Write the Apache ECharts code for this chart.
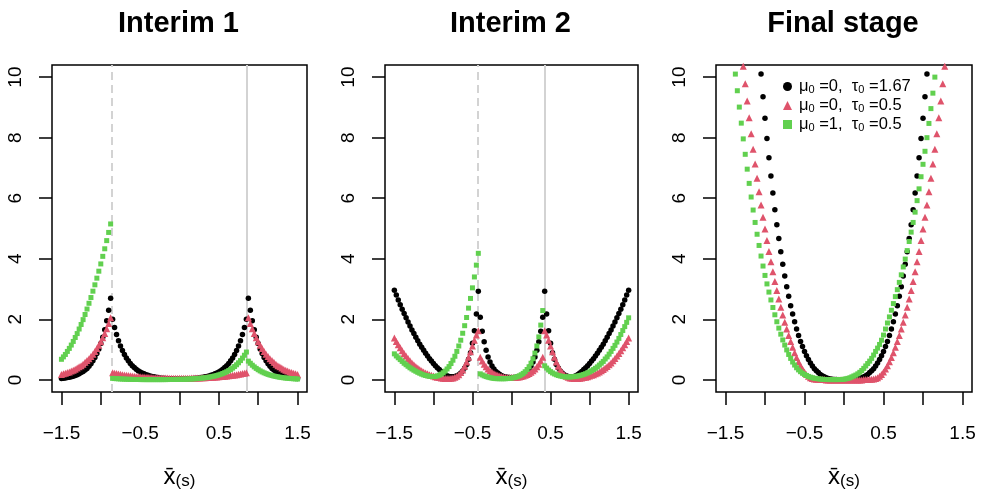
<!DOCTYPE html>
<html>
<head>
<meta charset="utf-8">
<script src="https://cdn.jsdelivr.net/npm/echarts@6/dist/echarts.min.js"></script>
<style>
  html, body { margin: 0; padding: 0; background: #fff; }
  #chart { width: 997px; height: 498px; }
</style>
</head>
<body>
<div id="chart"></div>
<script>
// grid of sample means, shared by the three panels
const xs = [-1.5,-1.475,-1.45,-1.425,-1.4,-1.375,-1.35,-1.325,-1.3,-1.275,-1.25,-1.225,-1.2,-1.175,-1.15,-1.125,-1.1,-1.075,-1.05,-1.025,
  -1,-0.975,-0.95,-0.925,-0.9,-0.875,-0.85,-0.825,-0.8,-0.775,-0.75,-0.725,-0.7,-0.675,-0.65,-0.625,-0.6,-0.575,-0.55,-0.525,
  -0.5,-0.475,-0.45,-0.425,-0.4,-0.375,-0.35,-0.325,-0.3,-0.275,-0.25,-0.225,-0.2,-0.175,-0.15,-0.125,-0.1,-0.075,-0.05,-0.025,
  0,0.025,0.05,0.075,0.1,0.125,0.15,0.175,0.2,0.225,0.25,0.275,0.3,0.325,0.35,0.375,0.4,0.425,0.45,0.475,
  0.5,0.525,0.55,0.575,0.6,0.625,0.65,0.675,0.7,0.725,0.75,0.775,0.8,0.825,0.85,0.875,0.9,0.925,0.95,0.975,
  1,1.025,1.05,1.075,1.1,1.125,1.15,1.175,1.2,1.225,1.25,1.275,1.3,1.325,1.35,1.375,1.4,1.425,1.45,1.475,1.5];

// Interim 1
const p1Black = [0.046,0.055,0.064,0.076,0.09,0.105,0.12,0.145,0.17,0.2,0.24,0.28,0.33,0.38,0.45,0.53,0.63,0.74,0.87,1.02,1.2,1.41,1.66,1.95,2.3,2.7,
  2.0,1.73,1.5,1.29,1.12,0.97,0.84,0.72,0.63,0.54,0.47,0.41,0.35,0.3,0.26,0.23,0.2,0.17,0.15,0.13,0.11,0.1,0.085,0.075,0.065,0.057,0.051,0.045,0.04,0.037,0.035,0.033,0.031,0.03,0.029,
  0.03,0.031,0.033,0.035,0.037,0.04,0.045,0.051,0.057,0.065,0.075,0.085,0.1,0.11,0.13,0.15,0.17,0.2,0.23,0.26,0.3,0.35,0.41,0.47,0.54,0.63,0.72,0.84,0.97,1.12,1.29,1.5,1.73,2.0,
  2.7,2.3,1.95,1.66,1.41,1.2,1.02,0.87,0.74,0.63,0.53,0.45,0.38,0.33,0.28,0.24,0.2,0.17,0.145,0.12,0.105,0.09,0.076,0.064,0.055,0.046];
const p1Red = [0.18,0.2,0.22,0.24,0.26,0.29,0.32,0.35,0.39,0.43,0.47,0.52,0.58,0.64,0.7,0.77,0.85,0.94,1.04,1.14,1.26,1.39,1.53,1.69,1.86,2.05,
  0.233,0.22,0.207,0.195,0.183,0.173,0.163,0.154,0.145,0.137,0.129,0.122,0.116,0.11,0.104,0.099,0.094,0.089,0.085,0.081,0.077,0.074,0.071,0.068,0.066,0.064,0.062,0.06,0.059,0.058,0.057,0.056,0.055,0.055,0.055,
  0.055,0.055,0.056,0.057,0.058,0.059,0.06,0.062,0.064,0.066,0.068,0.071,0.074,0.077,0.081,0.085,0.089,0.094,0.099,0.104,0.11,0.116,0.122,0.129,0.137,0.145,0.154,0.163,0.173,0.183,0.195,0.207,0.22,0.233,
  2.05,1.86,1.69,1.53,1.39,1.26,1.14,1.04,0.94,0.85,0.77,0.7,0.64,0.58,0.52,0.47,0.43,0.39,0.35,0.32,0.29,0.26,0.24,0.22,0.2,0.18];
const p1Green = [0.68,0.76,0.84,0.94,1.04,1.15,1.27,1.4,1.53,1.68,1.83,1.99,2.16,2.34,2.53,2.72,2.93,3.14,3.36,3.59,3.83,4.08,4.33,4.6,4.87,5.15,
  0.05,0.044,0.04,0.036,0.032,0.028,0.025,0.022,0.02,0.018,0.016,0.015,0.013,0.012,0.011,0.01,0.01,0.009,0.009,0.009,0.009,0.009,0.009,0.009,0.009,0.009,0.01,0.01,0.011,0.012,0.013,0.014,0.015,0.016,0.017,
  0.018,0.02,0.022,0.025,0.028,0.031,0.035,0.039,0.044,0.05,0.056,0.063,0.07,0.079,0.09,0.101,0.115,0.13,0.146,0.166,0.187,0.212,0.239,0.27,0.305,0.345,0.39,0.441,0.499,0.564,0.637,0.72,0.814,0.92,
  0.62,0.549,0.485,0.429,0.38,0.336,0.297,0.263,0.233,0.206,0.182,0.161,0.143,0.126,0.112,0.099,0.087,0.077,0.068,0.06,0.054,0.047,0.042,0.037,0.033,0.029];

// Interim 2
const p2Black = [2.96,2.8,2.64,2.48,2.33,2.19,2.05,1.91,1.78,1.65,1.53,1.41,1.29,1.18,1.08,0.98,0.88,0.79,0.7,0.62,0.54,0.47,0.4,0.34,0.28,0.23,0.18,0.14,0.11,0.1,0.1,0.11,0.14,0.17,0.23,0.29,0.39,0.51,0.68,0.9,1.21,1.62,2.18,2.93,
  2.07,1.61,1.26,0.98,0.76,0.59,0.46,0.36,0.28,0.23,0.18,0.14,0.115,0.098,0.086,0.079,0.076,0.079,0.086,0.098,0.115,0.14,0.18,0.23,0.28,0.36,0.46,0.59,0.76,0.98,1.26,1.61,2.07,
  2.93,2.18,1.62,1.21,0.9,0.68,0.51,0.39,0.29,0.23,0.17,0.14,0.11,0.1,0.1,0.11,0.14,0.18,0.23,0.28,0.34,0.4,0.47,0.54,0.62,0.7,0.79,0.88,0.98,1.08,1.18,1.29,1.41,1.53,1.65,1.78,1.91,2.05,2.19,2.33,2.48,2.64,2.8,2.96];
const p2Red = [1.38,1.27,1.16,1.06,0.96,0.87,0.79,0.71,0.63,0.56,0.5,0.44,0.39,0.34,0.3,0.26,0.23,0.2,0.17,0.15,0.125,0.107,0.091,0.077,0.065,0.054,0.05,0.047,0.047,0.052,0.065,0.086,0.12,0.17,0.24,0.33,0.45,0.59,0.75,0.93,1.12,1.31,1.48,1.62,
  0.75,0.62,0.52,0.43,0.36,0.3,0.25,0.21,0.175,0.15,0.127,0.11,0.097,0.086,0.08,0.076,0.075,0.076,0.08,0.086,0.097,0.11,0.127,0.15,0.175,0.21,0.25,0.3,0.36,0.43,0.52,0.62,0.75,
  1.62,1.48,1.31,1.12,0.93,0.75,0.59,0.45,0.33,0.24,0.17,0.12,0.086,0.065,0.052,0.047,0.047,0.05,0.054,0.065,0.077,0.091,0.107,0.125,0.15,0.17,0.2,0.23,0.26,0.3,0.34,0.39,0.44,0.5,0.56,0.63,0.71,0.79,0.87,0.96,1.06,1.16,1.27,1.38];
const p2Green = [0.86,0.79,0.73,0.67,0.61,0.55,0.5,0.45,0.4,0.36,0.32,0.285,0.25,0.22,0.19,0.165,0.145,0.13,0.12,0.113,0.11,0.115,0.13,0.155,0.19,0.235,0.29,0.36,0.44,0.54,0.65,0.78,0.94,1.12,1.31,1.54,1.79,2.06,2.37,2.69,3.04,3.4,3.79,4.18,
  0.2,0.164,0.134,0.11,0.09,0.074,0.06,0.049,0.042,0.04,0.039,0.038,0.038,0.04,0.044,0.05,0.059,0.072,0.087,0.108,0.135,0.17,0.215,0.27,0.343,0.434,0.55,0.7,0.886,1.12,1.42,1.81,2.29,
  0.465,0.39,0.326,0.273,0.23,0.196,0.169,0.146,0.129,0.116,0.106,0.1,0.098,0.099,0.102,0.108,0.117,0.128,0.143,0.16,0.18,0.204,0.232,0.263,0.3,0.339,0.383,0.43,0.49,0.55,0.61,0.69,0.76,0.85,0.94,1.04,1.14,1.25,1.37,1.5,1.63,1.76,1.9,2.05];

// Final stage (null = off the top of the plot)
const p3Black = [null,null,null,null,null,null,null,null,null,null,null,null,null,null,null,null,null,null,
  10.1,9.35,8.64,7.97,7.34,6.73,6.17,5.62,5.12,4.67,4.23,3.82,3.43,3.08,2.76,2.45,2.18,1.92,1.68,1.47,1.27,1.1,0.94,0.8,0.67,0.56,0.46,0.37,0.3,0.24,0.18,0.14,0.1,0.07,0.05,0.03,0.02,0.01,0.01,0,0,0,0,
  0,0,0,0.01,0.01,0.02,0.03,0.05,0.07,0.1,0.14,0.18,0.24,0.3,0.37,0.46,0.56,0.67,0.8,0.94,1.1,1.27,1.47,1.68,1.92,2.18,2.45,2.76,3.08,3.43,3.82,4.23,4.67,5.12,5.62,6.17,6.73,7.34,7.97,8.64,9.35,10.1,
  null,null,null,null,null,null,null,null,null,null,null,null,null,null,null,null,null,null];
const p3Red = [null,null,null,null,null,null,null,null,null,
  10.36,9.78,9.21,8.66,8.13,7.62,7.13,6.66,6.21,5.78,5.37,4.98,4.6,4.24,3.9,3.57,3.25,2.95,2.67,2.4,2.14,1.9,1.68,1.47,1.27,1.08,0.9,0.74,0.6,0.47,
  0.36,0.26,0.18,0.12,0.07,0.05,0.03,0.02,0.02,0.01,0.01,0.01,0,0,0,0,0,0,0,0,0,0,
  0,0,0,0,0,0,0,0,0,0.01,0.01,0.01,0.02,0.02,0.03,0.05,0.07,0.12,0.18,0.26,0.36,
  0.47,0.6,0.74,0.9,1.08,1.27,1.47,1.68,1.9,2.14,2.4,2.67,2.95,3.25,3.57,3.9,4.24,4.6,4.98,5.37,5.78,6.21,6.66,7.13,7.62,8.13,8.66,9.21,9.78,10.36,
  null,null,null,null,null,null,null,null,null];
const p3Green = [null,null,null,null,null,
  10.1,9.55,9.01,8.48,7.96,7.45,6.96,6.49,6.04,5.61,5.2,4.81,4.44,4.09,3.76,3.45,3.17,2.9,2.64,2.39,2.15,1.92,1.71,1.51,1.32,1.15,0.99,0.84,0.71,0.59,
  0.49,0.4,0.33,0.27,0.22,0.18,0.145,0.115,0.09,0.07,0.055,0.045,0.035,0.025,0.02,0.015,0.012,0.01,0.01,0.01,0.01,0.01,0.01,0.012,0.015,0.02,
  0.035,0.05,0.07,0.1,0.13,0.16,0.2,0.25,0.31,0.38,0.46,0.54,0.62,0.71,0.82,0.94,1.05,1.17,1.31,1.48,
  1.68,1.88,2.08,2.3,2.52,2.75,2.98,3.22,3.47,3.73,3.99,4.27,4.57,4.88,5.2,5.54,5.92,6.31,6.71,7.12,7.55,8.0,8.47,8.96,9.47,10.0,
  null,null,null,null,null,null,null,null,null,null,null,null,null,null];

// stopping boundaries (lower dashed, upper solid)
const p1Bounds = [-0.862, 0.862];
const p2Bounds = [-0.43, 0.43];

const titles = ['Interim 1', 'Interim 2', 'Final stage'];
const seriesNames = ['mu0=0, tau0=1.67', 'mu0=0, tau0=0.5', 'mu0=1, tau0=0.5'];
const legendText = ['μ{s|0} =0,  τ{s|0} =1.67', 'μ{s|0} =0,  τ{s|0} =0.5', 'μ{s|0} =1,  τ{s|0} =0.5'];
const xTicks = [-1.5, -1, -0.5, 0, 0.5, 1, 1.5];
const xTickLabels = [-1.5, -0.5, 0.5, 1.5];
const yTicks = [0, 2, 4, 6, 8, 10];

const panels = [
  [p1Black, p1Red, p1Green],
  [p2Black, p2Red, p2Green],
  [p3Black, p3Red, p3Green]
];
const bounds = [p1Bounds, p2Bounds, null];

const colors = ['#000000', '#DF536B', '#61D04F'];
const symbols = ['circle', 'triangle', 'rect'];
const sizes = [5.5, 7, 5];
const font = 'Liberation Sans';

const grids = [
  { left: 52, top: 65, width: 255, height: 327 },
  { left: 385, top: 65, width: 253, height: 327 },
  { left: 716, top: 65, width: 256, height: 327 }
];

const chart = echarts.init(document.getElementById('chart'), null, { renderer: 'canvas' });

const tickStyle = { color: '#000', width: 1.5 };
const xAxes = grids.map((g, i) => ({
  type: 'value', gridIndex: i, min: -1.62, max: 1.62,
  splitLine: { show: false },
  axisLine: { show: false, onZero: false },
  axisTick: { show: true, length: 13, lineStyle: tickStyle, customValues: xTicks },
  axisLabel: {
    customValues: xTickLabels, margin: 32, fontSize: 19, color: '#000', fontFamily: font,
    formatter: v => String(v).replace('-', '\u2212')
  },
  name: '{x|x\u0304}{s|(s)}', nameLocation: 'middle', nameGap: 72,
  nameTextStyle: {
    color: '#000', fontFamily: font,
    rich: {
      x: { fontSize: 24, fontFamily: font, color: '#000', lineHeight: 26 },
      s: { fontSize: 17, fontFamily: font, color: '#000', verticalAlign: 'bottom', lineHeight: 15 }
    }
  }
}));
const yAxes = grids.map((g, i) => ({
  type: 'value', gridIndex: i, min: -0.4, max: 10.4,
  splitLine: { show: false },
  axisLine: { show: false, onZero: false },
  axisTick: { show: true, length: 13, lineStyle: tickStyle, customValues: yTicks },
  axisLabel: { customValues: yTicks, rotate: 90, margin: 27, fontSize: 19, color: '#000', fontFamily: font }
}));

const series = [];
panels.forEach((arrs, p) => {
  if (bounds[p]) {
    series.push({
      type: 'scatter', xAxisIndex: p, yAxisIndex: p, data: [], z: 1, silent: true,
      markLine: {
        silent: true, symbol: 'none', z: 1, animation: false,
        label: { show: false },
        lineStyle: { color: '#D3D3D3', width: 2 },
        data: [
          { xAxis: bounds[p][0], lineStyle: { type: [8, 5], color: '#D3D3D3', width: 2 } },
          { xAxis: bounds[p][1], lineStyle: { type: 'solid', color: '#D3D3D3', width: 2 } }
        ]
      }
    });
  }
  arrs.forEach((arr, s) => {
    series.push({
      type: 'scatter', name: seriesNames[s], xAxisIndex: p, yAxisIndex: p, z: 2 + s,
      symbol: symbols[s], symbolSize: sizes[s], silent: true,
      itemStyle: { color: colors[s], opacity: 1 },
      data: xs.map((x, i) => [x, arr[i]]).filter(d => d[1] !== null)
    });
  });
});

const option = {
  animation: false,
  backgroundColor: '#fff',
  grid: grids.map(g => Object.assign({ show: true, borderColor: '#000', borderWidth: 1.5, containLabel: false }, g)),
  xAxis: xAxes,
  yAxis: yAxes,
  legend: {
    data: seriesNames.map((n, i) => ({ name: n, icon: symbols[i], itemStyle: { color: colors[i] } })),
    orient: 'vertical', left: 778, top: 73, itemGap: 2, itemWidth: 9, itemHeight: 9,
    selectedMode: false,
    formatter: name => legendText[seriesNames.indexOf(name)],
    textStyle: {
      fontSize: 16.5, fontFamily: font, color: '#000', lineHeight: 17, padding: [0, 0, 0, 2],
      rich: { s: { fontSize: 11, fontFamily: font, color: '#000', verticalAlign: 'bottom', lineHeight: 11 } }
    }
  },
  graphic: titles.map((t, i) => ({
    type: 'text', x: grids[i].left + grids[i].width / 2 - 1, y: 24, silent: true,
    style: { text: t, fill: '#000', font: 'bold 29px "Liberation Sans"', textAlign: 'center', textVerticalAlign: 'middle', verticalAlign: 'middle' }
  })),
  series: series
};
chart.setOption(option);
</script>
</body>
</html>
